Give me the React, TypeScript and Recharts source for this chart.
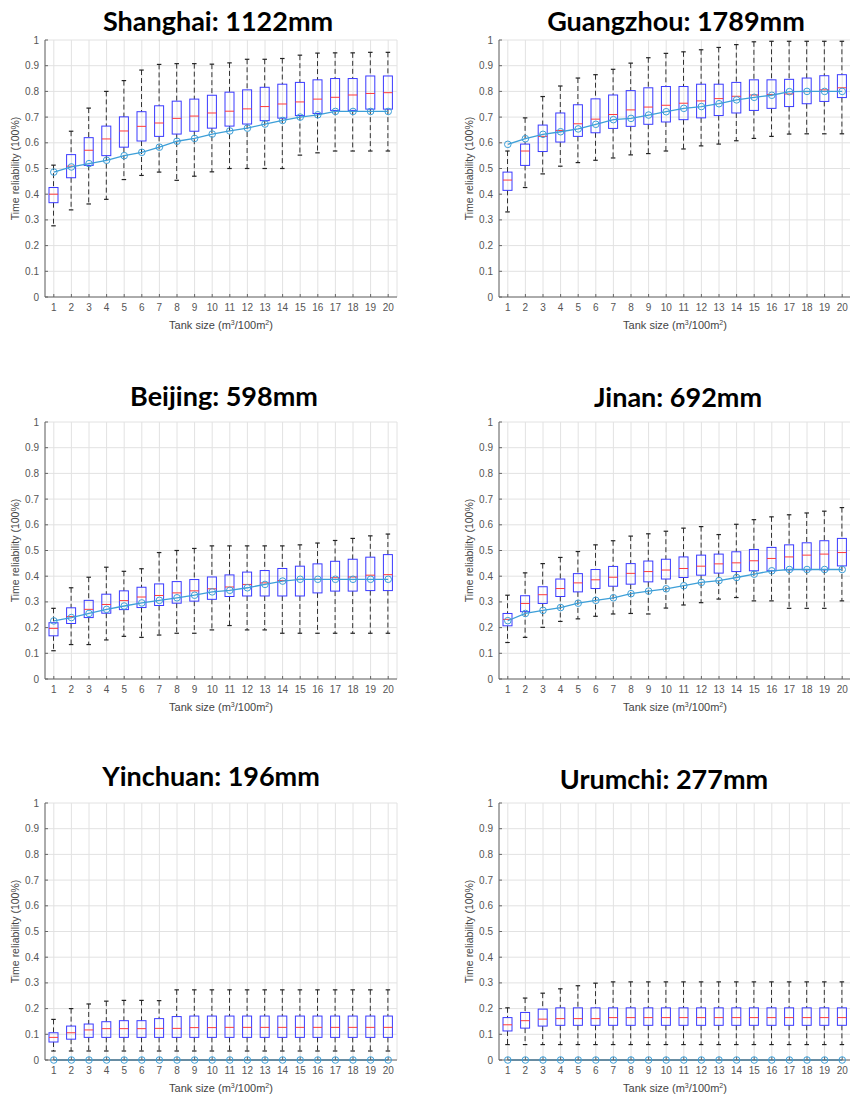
import React from 'react';
import { ComposedChart, Bar, Line, XAxis, YAxis, CartesianGrid } from 'recharts';

const TANK_SIZES = [1, 2, 3, 4, 5, 6, 7, 8, 9, 10, 11, 12, 13, 14, 15, 16, 17, 18, 19, 20];
const Y_TICKS = [0, 0.1, 0.2, 0.3, 0.4, 0.5, 0.6, 0.7, 0.8, 0.9, 1];

// Shanghai
const SH_WHI = [0.513, 0.645, 0.735, 0.8, 0.842, 0.883, 0.905, 0.908, 0.908, 0.906, 0.911, 0.925, 0.925, 0.928, 0.941, 0.949, 0.95, 0.95, 0.952, 0.952];
const SH_Q3 = [0.426, 0.554, 0.62, 0.665, 0.701, 0.721, 0.744, 0.762, 0.77, 0.785, 0.797, 0.806, 0.816, 0.828, 0.835, 0.845, 0.85, 0.85, 0.86, 0.86];
const SH_MED = [0.4, 0.509, 0.571, 0.615, 0.646, 0.664, 0.677, 0.695, 0.704, 0.716, 0.723, 0.732, 0.741, 0.751, 0.759, 0.77, 0.777, 0.786, 0.792, 0.795];
const SH_Q1 = [0.367, 0.464, 0.512, 0.55, 0.583, 0.607, 0.625, 0.634, 0.645, 0.657, 0.665, 0.673, 0.686, 0.696, 0.706, 0.714, 0.726, 0.726, 0.731, 0.731];
const SH_WLO = [0.277, 0.339, 0.362, 0.38, 0.457, 0.473, 0.486, 0.454, 0.47, 0.487, 0.5, 0.5, 0.5, 0.5, 0.552, 0.561, 0.568, 0.568, 0.568, 0.568];
const SH_DET = [0.486, 0.506, 0.519, 0.532, 0.55, 0.563, 0.583, 0.606, 0.617, 0.634, 0.646, 0.657, 0.673, 0.687, 0.7, 0.709, 0.722, 0.722, 0.722, 0.722];

// Guangzhou
const GZ_WHI = [0.568, 0.697, 0.78, 0.821, 0.852, 0.865, 0.886, 0.91, 0.931, 0.948, 0.954, 0.962, 0.971, 0.982, 0.993, 0.995, 0.995, 0.995, 0.995, 0.995];
const GZ_Q3 = [0.486, 0.595, 0.669, 0.716, 0.748, 0.771, 0.786, 0.803, 0.814, 0.819, 0.819, 0.828, 0.828, 0.835, 0.845, 0.845, 0.847, 0.852, 0.861, 0.865];
const GZ_MED = [0.455, 0.568, 0.625, 0.648, 0.674, 0.692, 0.71, 0.728, 0.739, 0.746, 0.754, 0.763, 0.772, 0.781, 0.786, 0.788, 0.79, 0.799, 0.806, 0.814];
const GZ_Q1 = [0.415, 0.512, 0.566, 0.603, 0.625, 0.639, 0.656, 0.664, 0.672, 0.681, 0.69, 0.697, 0.706, 0.716, 0.726, 0.734, 0.741, 0.752, 0.761, 0.776];
const GZ_WLO = [0.331, 0.426, 0.479, 0.509, 0.523, 0.532, 0.541, 0.553, 0.558, 0.568, 0.576, 0.588, 0.595, 0.608, 0.617, 0.625, 0.634, 0.635, 0.635, 0.635];
const GZ_DET = [0.594, 0.616, 0.633, 0.643, 0.654, 0.672, 0.69, 0.695, 0.708, 0.721, 0.734, 0.741, 0.752, 0.767, 0.777, 0.785, 0.799, 0.8, 0.8, 0.8];

// Beijing
const BJ_WHI = [0.275, 0.355, 0.396, 0.435, 0.419, 0.429, 0.492, 0.5, 0.508, 0.518, 0.518, 0.518, 0.518, 0.518, 0.522, 0.529, 0.539, 0.547, 0.557, 0.564];
const BJ_Q3 = [0.219, 0.277, 0.306, 0.33, 0.343, 0.357, 0.37, 0.379, 0.387, 0.397, 0.405, 0.416, 0.422, 0.43, 0.439, 0.448, 0.458, 0.466, 0.474, 0.484];
const BJ_MED = [0.197, 0.243, 0.271, 0.29, 0.305, 0.319, 0.325, 0.335, 0.343, 0.351, 0.358, 0.368, 0.374, 0.383, 0.388, 0.388, 0.394, 0.397, 0.404, 0.406];
const BJ_Q1 = [0.168, 0.216, 0.239, 0.256, 0.27, 0.278, 0.286, 0.295, 0.303, 0.31, 0.321, 0.323, 0.323, 0.323, 0.323, 0.335, 0.342, 0.342, 0.344, 0.344];
const BJ_WLO = [0.11, 0.134, 0.134, 0.152, 0.166, 0.162, 0.171, 0.178, 0.178, 0.191, 0.208, 0.191, 0.191, 0.178, 0.178, 0.178, 0.178, 0.178, 0.178, 0.178];
const BJ_DET = [0.226, 0.239, 0.255, 0.271, 0.284, 0.296, 0.306, 0.316, 0.326, 0.339, 0.345, 0.355, 0.368, 0.381, 0.388, 0.388, 0.388, 0.388, 0.388, 0.388];

// Jinan
const JN_WHI = [0.326, 0.413, 0.449, 0.473, 0.496, 0.522, 0.538, 0.556, 0.565, 0.575, 0.587, 0.593, 0.562, 0.602, 0.62, 0.631, 0.639, 0.646, 0.653, 0.667];
const JN_Q3 = [0.255, 0.324, 0.359, 0.389, 0.41, 0.426, 0.438, 0.449, 0.459, 0.466, 0.475, 0.482, 0.486, 0.495, 0.504, 0.512, 0.522, 0.53, 0.538, 0.547];
const JN_MED = [0.232, 0.294, 0.328, 0.352, 0.374, 0.386, 0.396, 0.411, 0.418, 0.424, 0.43, 0.439, 0.448, 0.452, 0.46, 0.469, 0.475, 0.482, 0.486, 0.492];
const JN_Q1 = [0.207, 0.262, 0.294, 0.321, 0.339, 0.352, 0.361, 0.369, 0.378, 0.389, 0.395, 0.404, 0.412, 0.418, 0.421, 0.421, 0.425, 0.425, 0.425, 0.44];
const JN_WLO = [0.142, 0.162, 0.201, 0.224, 0.234, 0.244, 0.253, 0.255, 0.253, 0.276, 0.288, 0.297, 0.311, 0.317, 0.304, 0.304, 0.275, 0.275, 0.275, 0.304];
const JN_DET = [0.227, 0.255, 0.267, 0.278, 0.295, 0.306, 0.316, 0.332, 0.342, 0.351, 0.363, 0.376, 0.383, 0.395, 0.408, 0.421, 0.426, 0.426, 0.426, 0.426];

// Yinchuan
const YC_WHI = [0.158, 0.2, 0.218, 0.229, 0.232, 0.232, 0.231, 0.273, 0.273, 0.273, 0.273, 0.273, 0.273, 0.273, 0.273, 0.273, 0.273, 0.273, 0.273, 0.273];
const YC_Q3 = [0.106, 0.132, 0.14, 0.149, 0.153, 0.153, 0.161, 0.169, 0.171, 0.171, 0.171, 0.171, 0.171, 0.171, 0.171, 0.171, 0.171, 0.171, 0.171, 0.171];
const YC_MED = [0.088, 0.106, 0.117, 0.122, 0.122, 0.122, 0.123, 0.123, 0.126, 0.126, 0.127, 0.127, 0.127, 0.127, 0.127, 0.127, 0.127, 0.127, 0.127, 0.127];
const YC_Q1 = [0.07, 0.081, 0.088, 0.088, 0.088, 0.088, 0.088, 0.088, 0.088, 0.088, 0.088, 0.088, 0.088, 0.088, 0.088, 0.088, 0.088, 0.088, 0.088, 0.088];
const YC_WLO = [0.035, 0.035, 0.035, 0.035, 0.035, 0.035, 0.035, 0.035, 0.035, 0.035, 0.035, 0.035, 0.035, 0.035, 0.035, 0.035, 0.035, 0.035, 0.035, 0.035];
const YC_DET = [0, 0, 0, 0, 0, 0, 0, 0, 0, 0, 0, 0, 0, 0, 0, 0, 0, 0, 0, 0];

// Urumchi
const UR_WHI = [0.203, 0.241, 0.26, 0.277, 0.289, 0.299, 0.304, 0.304, 0.304, 0.304, 0.304, 0.304, 0.304, 0.304, 0.304, 0.304, 0.304, 0.304, 0.304, 0.304];
const UR_Q3 = [0.165, 0.185, 0.198, 0.203, 0.203, 0.203, 0.203, 0.203, 0.203, 0.203, 0.203, 0.203, 0.203, 0.203, 0.203, 0.203, 0.203, 0.203, 0.203, 0.203];
const UR_MED = [0.137, 0.153, 0.159, 0.161, 0.161, 0.161, 0.165, 0.165, 0.165, 0.165, 0.165, 0.165, 0.165, 0.165, 0.165, 0.165, 0.165, 0.165, 0.165, 0.165];
const UR_Q1 = [0.113, 0.124, 0.132, 0.135, 0.135, 0.135, 0.135, 0.135, 0.135, 0.135, 0.135, 0.135, 0.135, 0.135, 0.135, 0.135, 0.135, 0.135, 0.135, 0.135];
const UR_WLO = [0.06, 0.06, 0.06, 0.06, 0.06, 0.06, 0.06, 0.06, 0.06, 0.06, 0.06, 0.06, 0.06, 0.06, 0.06, 0.06, 0.06, 0.06, 0.06, 0.06];
const UR_DET = [0, 0, 0, 0, 0, 0, 0, 0, 0, 0, 0, 0, 0, 0, 0, 0, 0, 0, 0, 0];

const PLOT_W = 352;
const PLOT_H = 257;
const AXIS_FONT = '"Liberation Sans", Arial, Helvetica, sans-serif';
const BOX_BLUE = '#3a3aff';
const MEDIAN_RED = '#ff3b3b';
const LINE_BLUE = '#3d9fd8';

type Stats = { whi: number[]; q3: number[]; med: number[]; q1: number[]; wlo: number[]; det: number[] };

const buildRows = (s: Stats) =>
  TANK_SIZES.map((size, i) => ({
    size,
    range: [s.wlo[i], s.whi[i]],
    whi: s.whi[i],
    q3: s.q3[i],
    med: s.med[i],
    q1: s.q1[i],
    wlo: s.wlo[i],
    det: s.det[i],
  }));

// bar covers the whisker range; the rest is placed inside it
function BoxShape(props: any) {
  const { x, y, width, height, payload } = props;
  if (x == null || y == null || !payload) return null;
  const { whi, q3, med, q1, wlo } = payload;
  const span = whi - wlo || 1;
  const toY = (v: number) => y + ((whi - v) / span) * height;
  const cx = x + width / 2;
  const cap = width / 4;
  return (
    <g>
      <line x1={cx} x2={cx} y1={toY(whi)} y2={toY(q3)} stroke="#333" strokeDasharray="5 3" />
      <line x1={cx} x2={cx} y1={toY(q1)} y2={toY(wlo)} stroke="#333" strokeDasharray="5 3" />
      <line x1={cx - cap} x2={cx + cap} y1={toY(whi)} y2={toY(whi)} stroke="#222" strokeWidth={1.2} />
      <line x1={cx - cap} x2={cx + cap} y1={toY(wlo)} y2={toY(wlo)} stroke="#222" strokeWidth={1.2} />
      <rect x={x} y={toY(q3)} width={width} height={toY(q1) - toY(q3)} fill="none" stroke={BOX_BLUE} strokeWidth={1} />
      <line x1={x} x2={x + width} y1={toY(med)} y2={toY(med)} stroke={MEDIAN_RED} strokeWidth={1} />
    </g>
  );
}

function XTitle({ viewBox }: any) {
  const { x, y, width } = viewBox;
  return (
    <text x={x + width / 2} y={y + 32} textAnchor="middle" fontSize={11} fill="#444" fontFamily={AXIS_FONT}>
      Tank size (m<tspan dy={-4} fontSize={7}>3</tspan>
      <tspan dy={4}>/100m</tspan>
      <tspan dy={-4} fontSize={7}>2</tspan>
      <tspan dy={4}>)</tspan>
    </text>
  );
}

function YTitle({ viewBox }: any) {
  const { x, y, height } = viewBox;
  const cy = y + height / 2;
  return (
    <text
      x={x}
      y={cy}
      transform={`rotate(-90 ${x} ${cy})`}
      textAnchor="middle"
      dominantBaseline="central"
      fontSize={10.5}
      fill="#444"
      fontFamily={AXIS_FONT}
    >
      Time reliability (100%)
    </text>
  );
}

type PanelProps = { title: string; plotLeft: number; plotTop: number; titleX: number; titleY: number; stats: Stats };

function BoxPanel({ title, plotLeft, plotTop, titleX, titleY, stats }: PanelProps) {
  const rows = buildRows(stats);
  const tickStyle = { fontSize: 10, fill: '#555', fontFamily: AXIS_FONT };
  return (
    <>
      <div
        style={{
          position: 'absolute',
          left: titleX,
          top: titleY,
          transform: 'translate(-50%, -50%)',
          fontFamily: 'Lato, "Open Sans", sans-serif',
          fontWeight: 700,
          fontSize: 27,
          whiteSpace: 'nowrap',
          color: '#000',
        }}
      >
        {title}
      </div>
      <div style={{ position: 'absolute', left: plotLeft - 45, top: plotTop - 10 }}>
        <ComposedChart
          width={45 + PLOT_W + 8}
          height={10 + PLOT_H + 40}
          data={rows}
          margin={{ top: 10, right: 8, bottom: 0, left: 15 }}
        >
          <CartesianGrid stroke="#e2e2e2" />
          <XAxis
            dataKey="size"
            type="number"
            domain={[0.5, 20.5]}
            ticks={TANK_SIZES}
            interval={0}
            height={40}
            stroke="#666"
            tickSize={-3}
            tickMargin={10}
            tick={tickStyle}
            label={<XTitle />}
          />
          <XAxis
            xAxisId="top"
            dataKey="size"
            orientation="top"
            type="number"
            domain={[0.5, 20.5]}
            ticks={TANK_SIZES}
            interval={0}
            height={0}
            stroke="#777"
            tickSize={-3}
            tickFormatter={() => ''}
          />
          <YAxis
            type="number"
            domain={[0, 1]}
            ticks={Y_TICKS}
            interval={0}
            width={30}
            stroke="#666"
            tickSize={-3}
            tickMargin={9}
            tick={tickStyle}
            tickFormatter={(v: number) => String(v)}
            label={<YTitle />}
          />
          <YAxis
            yAxisId="right"
            orientation="right"
            type="number"
            domain={[0, 1]}
            ticks={Y_TICKS}
            interval={0}
            width={0}
            stroke="#777"
            tickSize={-3}
            tickFormatter={() => ''}
          />
          <Bar dataKey="range" barSize={9} shape={<BoxShape />} isAnimationActive={false} />
          <Line
            dataKey="det"
            type="linear"
            stroke={LINE_BLUE}
            strokeWidth={1.3}
            dot={{ r: 3.3, stroke: LINE_BLUE, strokeWidth: 1, fill: 'none' }}
            isAnimationActive={false}
          />
        </ComposedChart>
      </div>
    </>
  );
}

export default function App() {
  return (
    <div style={{ position: 'absolute', left: 0, top: 0, width: 850, height: 1098, overflow: 'hidden', background: '#fff' }}>
      <BoxPanel
        title="Shanghai: 1122mm"
        plotLeft={45}
        plotTop={40}
        titleX={218}
        titleY={20}
        stats={{ whi: SH_WHI, q3: SH_Q3, med: SH_MED, q1: SH_Q1, wlo: SH_WLO, det: SH_DET }}
      />
      <BoxPanel
        title="Guangzhou: 1789mm"
        plotLeft={499}
        plotTop={40}
        titleX={676}
        titleY={20}
        stats={{ whi: GZ_WHI, q3: GZ_Q3, med: GZ_MED, q1: GZ_Q1, wlo: GZ_WLO, det: GZ_DET }}
      />
      <BoxPanel
        title="Beijing: 598mm"
        plotLeft={45}
        plotTop={421.5}
        titleX={224}
        titleY={395}
        stats={{ whi: BJ_WHI, q3: BJ_Q3, med: BJ_MED, q1: BJ_Q1, wlo: BJ_WLO, det: BJ_DET }}
      />
      <BoxPanel
        title="Jinan: 692mm"
        plotLeft={499}
        plotTop={421.5}
        titleX={678}
        titleY={396}
        stats={{ whi: JN_WHI, q3: JN_Q3, med: JN_MED, q1: JN_Q1, wlo: JN_WLO, det: JN_DET }}
      />
      <BoxPanel
        title="Yinchuan: 196mm"
        plotLeft={45}
        plotTop={803}
        titleX={211}
        titleY={775}
        stats={{ whi: YC_WHI, q3: YC_Q3, med: YC_MED, q1: YC_Q1, wlo: YC_WLO, det: YC_DET }}
      />
      <BoxPanel
        title="Urumchi: 277mm"
        plotLeft={499}
        plotTop={803}
        titleX={664}
        titleY={778}
        stats={{ whi: UR_WHI, q3: UR_Q3, med: UR_MED, q1: UR_Q1, wlo: UR_WLO, det: UR_DET }}
      />
    </div>
  );
}
